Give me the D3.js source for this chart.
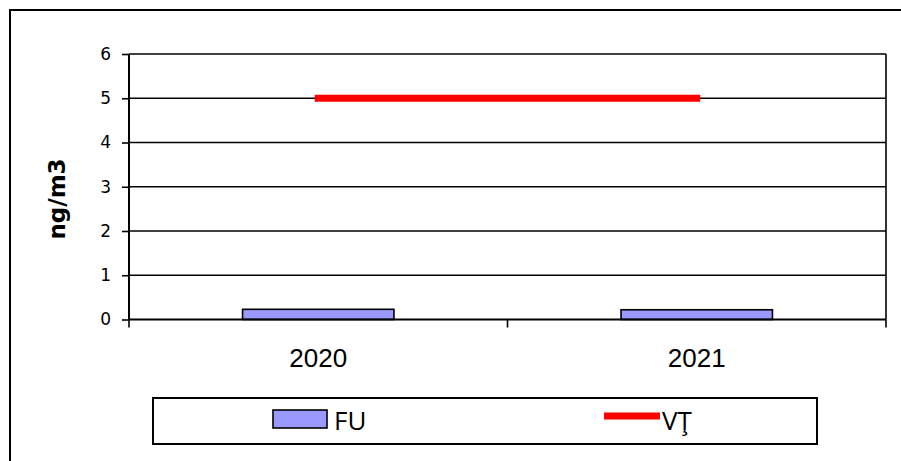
<!DOCTYPE html>
<html>
<head>
<meta charset="utf-8">
<script src="https://cdn.jsdelivr.net/npm/d3@7"></script>
<style>
  html, body { margin: 0; padding: 0; background: #fff; }
  svg { display: block; }
</style>
</head>
<body>
<svg id="chart" width="901" height="461"></svg>
<script>
// Chart data
const years = ["2020", "2021"];
const fuValues = [0.23, 0.22];        // measured values (ng/m3)
const limitValues = [5, 5];           // limit value (VŢ)
const yTicks = [0, 1, 2, 3, 4, 5, 6];
const seriesNames = ["FU", "VŢ"];
const yTitle = "ng/m3";

const svg = d3.select("#chart");
const font = "'Liberation Sans', Arial, sans-serif";
const tickFont = "'DejaVu Sans', sans-serif";
const legendFont = "'Open Sans', sans-serif";

// Outer frame
svg.append("rect")
  .attr("x", 10).attr("y", 10)
  .attr("width", 900).attr("height", 460)
  .attr("fill", "none").attr("stroke", "#000").attr("stroke-width", 2);

const plot = { left: 129, right: 886, top: 54, bottom: 319.5 };

const x = d3.scaleBand().domain(years).range([plot.left, plot.right]).paddingInner(0).paddingOuter(0);
const y = d3.scaleLinear().domain([0, 6]).range([plot.bottom, plot.top]);

// Horizontal gridlines
svg.append("g").selectAll("line").data(yTicks.filter(t => t > 0)).join("line")
  .attr("x1", plot.left).attr("x2", plot.right)
  .attr("y1", d => y(d)).attr("y2", d => y(d))
  .attr("stroke", "#000").attr("stroke-width", 1.6);

// Right border of the plot area
svg.append("line")
  .attr("x1", plot.right).attr("x2", plot.right)
  .attr("y1", plot.top).attr("y2", plot.bottom)
  .attr("stroke", "#000").attr("stroke-width", 1.6);

// Bars
const barW = x.bandwidth() * 0.40;
svg.append("g").selectAll("rect").data(years).join("rect")
  .attr("x", d => x(d) + (x.bandwidth() - barW) / 2)
  .attr("y", (d, i) => y(fuValues[i]))
  .attr("width", barW)
  .attr("height", (d, i) => y(0) - y(fuValues[i]))
  .attr("fill", "#9999ff").attr("stroke", "#000").attr("stroke-width", 1.6);

// Limit line
const line = d3.line()
  .x((d, i) => x(years[i]) + x.bandwidth() / 2)
  .y(d => y(d));
svg.append("path").datum(limitValues)
  .attr("d", line)
  .attr("fill", "none").attr("stroke", "#ff0000")
  .attr("stroke-width", 7).attr("stroke-linecap", "square");

// Y axis
const yAxis = d3.axisLeft(y).tickValues(yTicks).tickSize(7).tickPadding(11).tickFormat(d3.format("d"));
const yg = svg.append("g").attr("transform", `translate(${plot.left},0)`).call(yAxis);
yg.select(".domain").remove();
yg.append("line").attr("x1", 0).attr("x2", 0).attr("y1", plot.top).attr("y2", plot.bottom)
  .attr("stroke", "#000").attr("stroke-width", 2);
yg.selectAll(".tick line").attr("stroke", "#000").attr("stroke-width", 1.6);
yg.selectAll(".tick text").attr("font-family", tickFont).attr("font-size", 17).attr("fill", "#000");

// X axis
const xg = svg.append("g").attr("transform", `translate(0,${plot.bottom})`);
xg.append("line").attr("x1", plot.left).attr("x2", plot.right).attr("y1", 0).attr("y2", 0)
  .attr("stroke", "#000").attr("stroke-width", 2);
const tickXs = [plot.left, ...years.slice(1).map(d => x(d)), plot.right];
xg.selectAll("line.tk").data(tickXs).join("line").attr("class", "tk")
  .attr("x1", d => d).attr("x2", d => d).attr("y1", 0).attr("y2", 8)
  .attr("stroke", "#000").attr("stroke-width", 1.6);
xg.selectAll("text").data(years).join("text")
  .attr("x", d => x(d) + x.bandwidth() / 2)
  .attr("y", 47)
  .attr("text-anchor", "middle")
  .attr("font-family", font).attr("font-size", 26).attr("fill", "#000")
  .text(d => d);

// Y title
svg.append("text")
  .attr("transform", `translate(65,199) rotate(-90)`)
  .attr("text-anchor", "middle")
  .attr("font-family", tickFont).attr("font-size", 23).attr("font-weight", "bold")
  .text(yTitle);

// Legend
const lg = svg.append("g");
lg.append("rect").attr("x", 153).attr("y", 398).attr("width", 664).attr("height", 46)
  .attr("fill", "#fff").attr("stroke", "#000").attr("stroke-width", 2);
lg.append("rect").attr("x", 273).attr("y", 410).attr("width", 54).attr("height", 18)
  .attr("fill", "#9999ff").attr("stroke", "#000").attr("stroke-width", 1.6);
lg.append("text").attr("x", 334).attr("y", 429.5)
  .attr("font-family", legendFont).attr("font-size", 26).text(seriesNames[0]);
lg.append("line").attr("x1", 604).attr("x2", 660).attr("y1", 416).attr("y2", 416)
  .attr("stroke", "#ff0000").attr("stroke-width", 7);
lg.append("text").attr("x", 662).attr("y", 429.5)
  .attr("font-family", legendFont).attr("font-size", 26).text(seriesNames[1]);
</script>
</body>
</html>
